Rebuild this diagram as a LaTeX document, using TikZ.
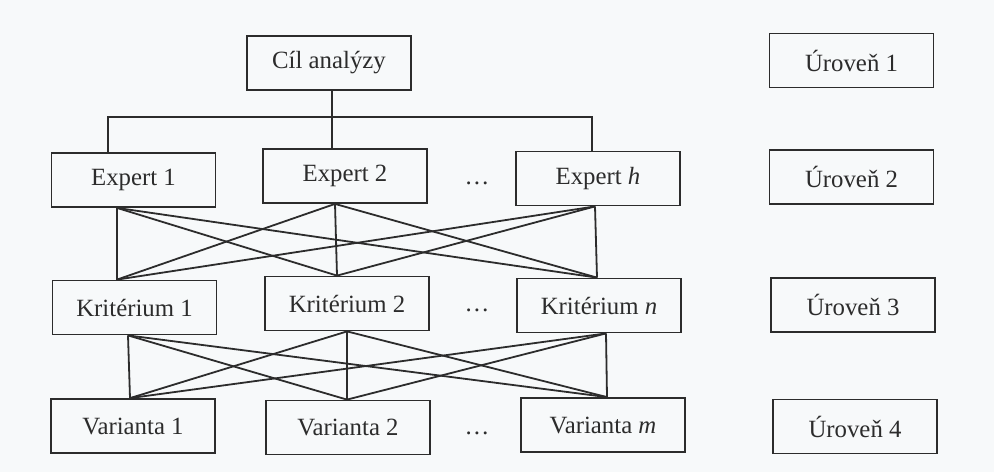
\documentclass[tikz,border=0pt]{standalone}
\usepackage{fontspec}
\setmainfont{Liberation Serif}
\usetikzlibrary{calc}
\definecolor{ink}{HTML}{2C2C2C}
\definecolor{paper}{HTML}{F7F9FA}
\begin{document}
\begin{tikzpicture}[x=0.5pt,y=-0.5pt,
  box/.style={draw=ink,line width=0.9pt,minimum width=82pt,minimum height=27pt,
    inner sep=0pt,text=ink,font=\fontsize{12.4}{14}\selectfont},
  dotsnode/.style={inner sep=0pt,text=ink,font=\fontsize{12.4}{14}\selectfont},
  link/.style={draw=ink,line width=0.9pt}]
% page
\fill[paper] (0,0) rectangle (994,472);
\useasboundingbox (0,0) rectangle (994,472);

% level 1
\node[box] (cil) at (329,63) {Cíl analýzy};
% level 2
\node[box] (e1) at (133.5,180) {Expert 1};
\node[box] (e2) at (345,176) {Expert 2};
\node[box] (eh) at (598,178.5) {Expert \textit{h}};
\node[dotsnode] (d2) at (477,183) {…};
% level 3
\node[box] (k1) at (134.5,307.5) {Kritérium 1};
\node[box] (k2) at (347,303.5) {Kritérium 2};
\node[box] (kn) at (599,305.5) {Kritérium \textit{n}};
\node[dotsnode] (d3) at (477,310) {…};
% level 4
\node[box] (v1) at (133,426) {Varianta 1};
\node[box] (v2) at (348,427.5) {Varianta 2};
\node[box] (vm) at (603,425) {Varianta \textit{m}};
\node[dotsnode] (d4) at (477,433) {…};
% level labels
\node[box] (u1) at (851.5,60.5) {Úroveň 1};
\node[box] (u2) at (851.5,177) {Úroveň 2};
\node[box] (u3) at (853,305) {Úroveň 3};
\node[box] (u4) at (855,426.5) {Úroveň 4};

% attachment points
\coordinate (cilb) at ($(cil.south)+(3,0)$);
\coordinate (bus) at (332,117);
\coordinate (e1t) at ($(e1.north)+(-25.5,0)$);
\coordinate (e2t) at ($(e2.north)+(-13,0)$);
\coordinate (eht) at ($(eh.north)+(-6,0)$);
\coordinate (e1b) at ($(e1.south)+(-16.5,0)$);
\coordinate (e2b) at ($(e2.south)+(-10,0)$);
\coordinate (ehb) at ($(eh.south)+(-3,0)$);
\coordinate (k1t) at ($(k1.north)+(-17.5,0)$);
\coordinate (k2t) at ($(k2.north)+(-10,0)$);
\coordinate (knt) at ($(kn.north)+(-2,0)$);
\coordinate (k1b) at ($(k1.south)+(-6.5,0)$);
\coordinate (k2b) at ($(k2.south)+(0,0)$);
\coordinate (knb) at ($(kn.south)+(7,0)$);
\coordinate (v1t) at ($(v1.north)+(-3,0)$);
\coordinate (v2t) at ($(v2.north)+(-1,0)$);
\coordinate (vmt) at ($(vm.north)+(4,0)$);

% goal to experts
\draw[link] (cilb) -- (e2t);
\draw[link] (e1t) |- (bus) -| (eht);

% experts to criteria
\foreach \a in {e1b,e2b,ehb}
  \foreach \b in {k1t,k2t,knt}
    \draw[link] (\a) -- (\b);

% criteria to variants
\foreach \a in {k1b,k2b,knb}
  \foreach \b in {v1t,v2t,vmt}
    \draw[link] (\a) -- (\b);
\end{tikzpicture}
\end{document}
